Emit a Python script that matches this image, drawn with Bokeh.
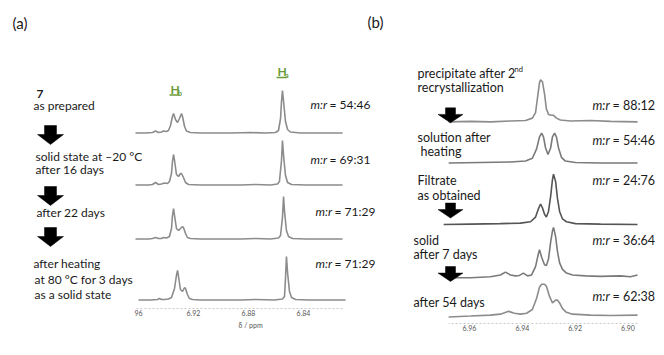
from bokeh.plotting import figure
from bokeh.models import Range1d, LinearAxis, FixedTicker, Title, PrintfTickFormatter
from bokeh.layouts import row
from bokeh.core.properties import value
from bokeh.embed import file_html
from bokeh.resources import INLINE

# ---------------- data ----------------
# Panel (a): chemical shift (ppm) and intensity (arb. units) of each trace
a1_ppm = [6.9622, 6.9549, 6.9498, 6.9476, 6.9455, 6.9433, 6.9418, 6.9396, 6.9382, 6.9367, 6.9353, 6.9345,
          6.9331, 6.9316, 6.9302, 6.9287, 6.928, 6.9265, 6.9251, 6.9222, 6.9149, 6.8931, 6.8785, 6.8676,
          6.8604, 6.8582, 6.8567, 6.856, 6.8553, 6.8545, 6.8531, 6.8516, 6.8495, 6.8422, 6.8276, 6.8116]
a1_int = [0.5, 0.5, 1, 2.5, 1, 1.5, 2.5, 2, 3, 8, 17, 20,
          14, 11, 15, 20, 17, 7, 2.5, 1, 0.5, 0.5, 1, 0.5,
          1, 3, 15, 32, 43, 32, 12, 4, 1.5, 0.5, 0.5, 0.5]
a2_ppm = [6.9622, 6.9527, 6.9498, 6.9476, 6.9455, 6.9433, 6.9411, 6.9389, 6.9375, 6.936, 6.9353, 6.9345,
          6.9338, 6.9324, 6.9309, 6.9295, 6.9287, 6.9273, 6.9258, 6.9236, 6.9149, 6.8858, 6.8749, 6.864,
          6.8589, 6.8575, 6.856, 6.8553, 6.8545, 6.8531, 6.8516, 6.8487, 6.8385, 6.8116]
a2_int = [0.5, 0.5, 1, 3, 1, 1.5, 2.5, 2, 4, 12, 24, 31,
          25, 11, 9, 12, 12, 8, 3, 1, 0.5, 0.5, 1, 0.5,
          1.5, 4, 25, 45, 30, 10, 3, 1, 0.5, 0.5]
a3_ppm = [6.9622, 6.9527, 6.9498, 6.9476, 6.9455, 6.9433, 6.9418, 6.9396, 6.9375, 6.936, 6.9353, 6.9345,
          6.9338, 6.9324, 6.9309, 6.928, 6.9273, 6.9258, 6.9244, 6.9222, 6.9149, 6.8858, 6.8749, 6.864,
          6.8582, 6.8567, 6.8553, 6.8545, 6.8538, 6.8524, 6.8509, 6.848, 6.8385, 6.8116]
a3_int = [0.5, 0.5, 1, 2, 1, 1, 2, 1.5, 3, 11, 24, 31,
          24, 11, 9, 13, 12, 6, 2, 1, 0.5, 0.5, 1, 0.5,
          1.5, 4, 22, 43, 28, 9, 3, 1, 0.5, 0.5]
a4_ppm = [6.96, 6.9513, 6.9462, 6.9447, 6.9433, 6.9411, 6.9382, 6.936, 6.9338, 6.9324, 6.9316, 6.9309,
          6.9295, 6.928, 6.9265, 6.9258, 6.9244, 6.923, 6.9207, 6.9149, 6.8858, 6.8749, 6.8611, 6.8553,
          6.8538, 6.8531, 6.8524, 6.8516, 6.8502, 6.8487, 6.8458, 6.8363, 6.8094]
a4_int = [0.5, 0.5, 1, 2, 1, 1, 1.5, 3, 12, 25, 30, 24,
          11, 9, 13, 12, 6, 2, 1, 0.5, 0.5, 1, 0.5, 1.5,
          4, 22, 44, 28, 9, 3, 1, 0.5, 0.5]

# Panel (b)
b1_ppm = [6.9679, 6.9596, 6.9521, 6.9445, 6.9388, 6.9362, 6.935, 6.9343, 6.9335, 6.9331, 6.9324,
          6.9316, 6.9309, 6.9301, 6.929, 6.9282, 6.9271, 6.9256, 6.9218, 6.9142, 6.9066, 6.8964]
b1_int = [0, 0.5, 0, 1, 1.5, 4, 10, 25, 42, 45, 43,
          30, 14, 8, 7, 7, 4, 2, 1, 1.5, 0.5, 0]
b2_ppm = [6.9679, 6.9558, 6.9445, 6.9388, 6.9362, 6.9346, 6.9335, 6.9327, 6.932, 6.9312, 6.9303,
          6.9293, 6.9286, 6.9278, 6.9271, 6.9263, 6.9252, 6.9237, 6.9199, 6.9104, 6.8964]
b2_int = [0, 0.5, 1, 2, 5, 15, 28, 32, 28, 16, 9,
          16, 28, 32, 28, 16, 6, 2, 0.5, 0, 0]
b3_ppm = [6.9698, 6.9596, 6.9483, 6.9407, 6.9369, 6.935, 6.9339, 6.9331, 6.9324, 6.9316, 6.9309,
          6.9301, 6.9293, 6.9286, 6.9282, 6.9274, 6.9267, 6.9259, 6.9248, 6.9233, 6.9199, 6.9104, 6.8964]
b3_int = [0, 0.5, 1, 1.5, 3, 8, 17, 22, 18, 11, 8,
          14, 30, 48, 54, 46, 28, 14, 6, 3, 1, 0.5, 0]
b4_ppm = [6.9679, 6.9596, 6.9521, 6.9483, 6.9464, 6.9445, 6.9426, 6.9411, 6.9396, 6.938, 6.9365,
          6.935, 6.9339, 6.9335, 6.9327, 6.9316, 6.9309, 6.9301, 6.9293, 6.9286, 6.9282, 6.9274,
          6.9267, 6.9259, 6.9248, 6.9233, 6.921, 6.9161, 6.9104, 6.9028, 6.8991, 6.8964]
b4_int = [0, 0, 1, 3, 6, 3, 2, 2.5, 5, 2, 3,
          12, 26, 30, 22, 14, 13, 20, 38, 50, 54, 44,
          28, 16, 9, 5, 3, 2, 1.5, 2, 1, 3]
b5_ppm = [6.9679, 6.9596, 6.9521, 6.9483, 6.9452, 6.943, 6.9407, 6.9384, 6.9362, 6.9346, 6.9335,
          6.9327, 6.9316, 6.9309, 6.9297, 6.9286, 6.9274, 6.9267, 6.9259, 6.9248, 6.9233, 6.921,
          6.9142, 6.9066, 6.8964]
b5_int = [0, 1, 2, 3, 6, 4, 3, 4, 8, 20, 32,
          35, 35, 33, 22, 15, 18, 18, 15, 9, 5, 3,
          2, 1.5, 2]

a_ticks = [6.96, 6.92, 6.88, 6.84]
b_ticks = [6.96, 6.94, 6.92, 6.90]

a_steps = [["7", "as prepared"], ["solid state at \u201320 \u00b0C", "after 16 days"], ["after 22 days"],
           ["after heating", "at 80 \u00b0C for 3 days", "as a solid state"]]
a_ratios = ["54:46", "69:31", "71:29", "71:29"]
b_steps = [["precipitate after 2", "recrystallization"], ["solution after", "heating"],
           ["Filtrate", "as obtained"], ["solid", "after 7 days"], ["after 54 days"]]
b_ratios = ["88:12", "54:46", "24:76", "36:64", "62:38"]

# ---------------- layout constants (page pixels) ----------------
FONT_NAME = "Lato"
FONT = value(FONT_NAME)
TXT = "#1a1a1a"
GREEN = "#6a9a3a"
W_A, W_B = 395, 269
A_X0, A_X1 = 0, W_A
B_X0, B_X1 = A_X1, A_X1 + W_B
TOP = 0
A_H, A_BORDER = 340, 32
B_H, B_BORDER = 355, 9
A_BOT = TOP + A_H - A_BORDER
B_BOT = TOP + B_H - B_BORDER

A_REF_PX, A_REF_PPM, A_PXPPM = 193, 6.92, 1375.0
B_REF_PX, B_REF_PPM, B_PXPPM = 469, 6.96, 2642.0

a_base = [133, 185, 239, 300]
b_base = [130, 174, 240, 297, 339]


def make_fig(w, h, x0, x1, bottom, border):
    p = figure(width=w, height=h, x_range=Range1d(x0, x1), y_range=Range1d(bottom, TOP),
               output_backend="svg", toolbar_location=None, x_axis_type=None, y_axis_type=None,
               min_border_left=0, min_border_right=0, min_border_top=0, min_border_bottom=border)
    p.outline_line_color = None
    p.background_fill_color = "white"
    p.border_fill_color = "white"
    return p


def arrow(p, cx, top, w, h, sw, sh):
    xs = [cx - sw / 2, cx + sw / 2, cx + sw / 2, cx + w / 2, cx, cx - w / 2, cx - sw / 2]
    ys = [top, top, top + sh, top + sh, top + h, top + sh, top + sh]
    p.patch(xs, ys, fill_color="black", line_color="black", line_width=0.5)


def ratio(p, x, y, r, size, gap):
    p.text([x], [y], text=["m:r"], text_font=FONT, text_font_size=size, text_font_style="italic",
           text_baseline="middle", text_color=TXT)
    p.text([x + gap], [y], text=["= " + r], text_font=FONT, text_font_size=size,
           text_baseline="middle", text_color=TXT)


def style_axis(a):
    a.axis_line_color = "#c8c8c8"
    a.axis_line_dash = "2 2"
    a.major_tick_out = 0
    a.major_tick_in = 0
    a.minor_tick_out = 0
    a.minor_tick_in = 0
    a.major_label_text_font = FONT_NAME
    a.major_label_text_font_size = "7px"
    a.major_label_text_color = "#555555"
    a.major_label_standoff = 1


# ---------------- panel (a) ----------------
pa = make_fig(W_A, A_H, A_X0, A_X1, A_BOT, A_BORDER)
pa.extra_x_ranges = {"ppm": Range1d(A_REF_PPM + (A_REF_PX - A_X0) / A_PXPPM,
                                    A_REF_PPM - (A_X1 - A_REF_PX) / A_PXPPM)}
a_traces = [(a1_ppm, a1_int), (a2_ppm, a2_int), (a3_ppm, a3_int), (a4_ppm, a4_int)]
for i, ((xp, yi), b) in enumerate(zip(a_traces, a_base)):
    name = f"a{i}"
    pa.extra_y_ranges[name] = Range1d(-(A_BOT - b), b - TOP)
    pa.line(xp, yi, x_range_name="ppm", y_range_name=name, line_color="#8c8c8c", line_width=1.6)

ax = LinearAxis(x_range_name="ppm", ticker=FixedTicker(ticks=a_ticks), bounds=(6.8116, 6.962),
                major_label_overrides={6.96: "96"}, formatter=PrintfTickFormatter(format="%.2f"))
style_axis(ax)
pa.add_layout(ax, "below")
pa.add_layout(Title(text="\u03b4 / ppm", align="left", offset=238, text_font=FONT_NAME,
                    text_font_size="7px", text_font_style="normal", text_color="#555555",
                    standoff=0), "below")

pa.text([12], [22], text=["(a)"], text_font=FONT, text_font_size="15px", text_baseline="middle",
        text_color=TXT)
pa.text([367], [21], text=["(b)"], text_font=FONT, text_font_size="15px", text_baseline="middle",
        text_color=TXT)

a_text_pos = [[(36, 93), (33, 105)], [(35, 156), (35, 169)], [(36, 212)], [(33, 263), (34, 279), (34, 294)]]
for lines, pos in zip(a_steps, a_text_pos):
    for t, (x, y) in zip(lines, pos):
        pa.text([x], [y], text=[t], text_font=FONT, text_font_size="12px", text_baseline="middle",
                text_color=TXT, text_font_style="bold" if t == "7" else "normal")

for cx, top in [(50, 125), (50, 186), (50, 227)]:
    arrow(pa, cx, top, 26, 19, 12, 9)

for r, (x, y) in zip(a_ratios, [(310, 104), (310, 159), (315, 211), (315, 263)]):
    ratio(pa, x, y, r, "12px", 19)

# H labels: (H left x, H centre y, subscript)
for (x, y, sub) in [(170, 88.5, "b"), (277, 71, "a")]:
    pa.text([x], [y], text=["H"], text_font=FONT, text_font_size="12px", text_font_style="bold",
            text_baseline="middle", text_color=GREEN)
    pa.text([x + 7.5], [y + 3.5], text=[sub], text_font=FONT, text_font_size="7px",
            text_font_style="bold", text_baseline="middle", text_color=GREEN)
    pa.segment([x - 1], [y + 6], [x + 9], [y + 6], line_color=GREEN, line_width=1.3)

# ---------------- panel (b) ----------------
pb = make_fig(W_B, B_H, B_X0, B_X1, B_BOT, B_BORDER)
pb.extra_x_ranges = {"ppm": Range1d(B_REF_PPM + (B_REF_PX - B_X0) / B_PXPPM,
                                    B_REF_PPM - (B_X1 - B_REF_PX) / B_PXPPM)}
b_traces = [(b1_ppm, b1_int), (b2_ppm, b2_int), (b3_ppm, b3_int), (b4_ppm, b4_int), (b5_ppm, b5_int)]
b_cols = ["#8c8c8c", "#7a7a7a", "#555555", "#7a7a7a", "#8c8c8c"]
for i, ((xp, yi), b, c) in enumerate(zip(b_traces, b_base, b_cols)):
    name = f"b{i}"
    pb.extra_y_ranges[name] = Range1d(-(B_BOT - b), b - TOP)
    pb.line(xp, yi, x_range_name="ppm", y_range_name=name, line_color=c, line_width=1.6)

bx = LinearAxis(x_range_name="ppm", ticker=FixedTicker(ticks=b_ticks), bounds=(6.8964, 6.9679),
                formatter=PrintfTickFormatter(format="%.2f"))
style_axis(bx)
pb.add_layout(bx, "below")

b_text_pos = [[(417, 78), (417, 93)], [(417, 147), (420, 162)], [(417, 193), (417, 209)],
              [(413, 257), (413, 272)], [(413, 323)]]
for lines, pos in zip(b_steps, b_text_pos):
    for t, (x, y) in zip(lines, pos):
        pb.text([x], [y], text=[t], text_font=FONT, text_font_size="12.5px", text_baseline="middle",
                text_color=TXT)
pb.text([514], [74], text=["nd"], text_font=FONT, text_font_size="7.5px", text_baseline="middle",
        text_color=TXT)

for cx, top in [(450, 115), (450, 217), (450, 285)]:
    arrow(pb, cx, top, 25, 16, 10, 7)

for r, y in zip(b_ratios, [112, 150, 193, 257, 317]):
    ratio(pb, 592, y, r, "12.5px", 20)

layout = row(pa, pb, spacing=0)
open("out.html", "w").write(file_html(layout, INLINE))
